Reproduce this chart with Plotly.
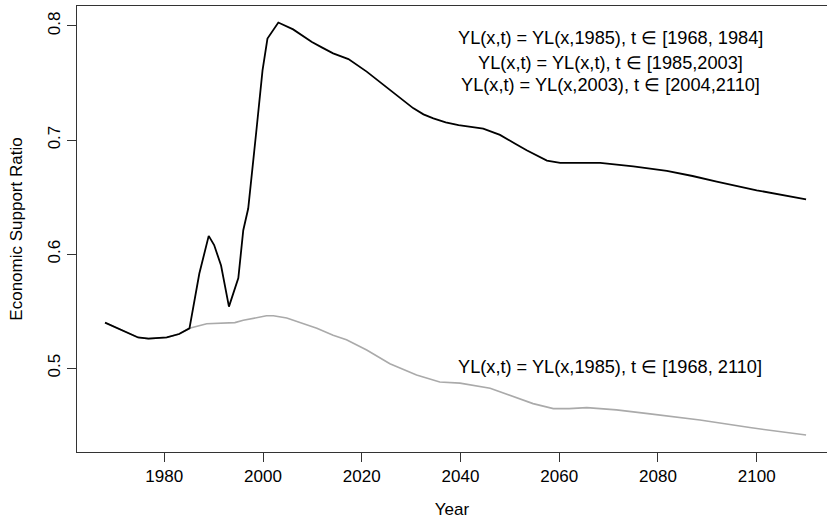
import plotly.graph_objects as go

# Black series: YL varying scenario
years_black = [1968, 1971, 1974.7, 1976.8, 1980.5, 1983, 1985.1, 1987.1, 1989.0, 1990.1, 1991.5,
               1993.1, 1995.0, 1996.0, 1997.0, 1998.6, 1999.9, 2000.9, 2003.1, 2006.1, 2009.9,
               2012, 2014.2, 2017.3, 2021.0, 2025.7, 2030.4, 2032.5, 2034.5, 2037, 2039.6, 2044.6,
               2048.0, 2051, 2053.4, 2057.5, 2060.2, 2064, 2068.3, 2075, 2081.8, 2087, 2091.9,
               2100, 2110]
esr_black = [0.540, 0.534, 0.527, 0.526, 0.527, 0.530, 0.535, 0.583, 0.616, 0.608, 0.590,
             0.554, 0.579, 0.621, 0.640, 0.706, 0.761, 0.789, 0.803, 0.797, 0.786,
             0.781, 0.776, 0.771, 0.760, 0.744, 0.728, 0.7225, 0.719, 0.7155, 0.713, 0.710,
             0.7045, 0.697, 0.691, 0.682, 0.680, 0.680, 0.680, 0.677, 0.673, 0.6685, 0.6635,
             0.656, 0.648]

# Grey series: YL fixed at 1985
years_grey = [1968, 1971, 1974.7, 1976.8, 1980.5, 1983, 1985.1, 1988.6, 1994.3, 1996.0, 2000.7,
              2002.1, 2004.8, 2010.9, 2014.2, 2016.9, 2021.0, 2025.7, 2031.1, 2035.8, 2039.9,
              2046.0, 2050.0, 2054.7, 2058.8, 2062, 2065.6, 2071.6, 2078.4, 2088.5, 2098.6, 2110]
esr_grey = [0.540, 0.534, 0.527, 0.526, 0.527, 0.530, 0.535, 0.539, 0.540, 0.542, 0.546,
            0.546, 0.544, 0.535, 0.529, 0.525, 0.516, 0.504, 0.494, 0.488, 0.487,
            0.4825, 0.4766, 0.469, 0.4646, 0.4646, 0.4655, 0.4635, 0.460, 0.4547, 0.448, 0.4415]

x_ticks = [1980, 2000, 2020, 2040, 2060, 2080, 2100]
y_ticks = [0.5, 0.6, 0.7, 0.8]

top_labels = ["YL(x,t) = YL(x,1985), t \u2208 [1968, 1984]",
              "YL(x,t) = YL(x,t), t \u2208 [1985,2003]",
              "YL(x,t) = YL(x,2003), t \u2208 [2004,2110]"]
top_label_y = [0.7895, 0.7676, 0.7486]
bottom_label = "YL(x,t) = YL(x,1985), t \u2208 [1968, 2110]"
bottom_label_y = 0.5013
label_x = 2070.3

FONT = "Liberation Sans, Arial, Helvetica, sans-serif"

fig = go.Figure()
fig.add_trace(go.Scatter(x=years_grey, y=esr_grey, mode="lines",
                         line=dict(color="#aaaaaa", width=1.6), showlegend=False))
fig.add_trace(go.Scatter(x=years_black, y=esr_black, mode="lines",
                         line=dict(color="#000000", width=1.8), showlegend=False))

for txt, yy in zip(top_labels, top_label_y):
    fig.add_annotation(x=label_x, y=yy, text=txt, showarrow=False,
                       font=dict(family=FONT, size=18.2, color="#000"))
fig.add_annotation(x=label_x, y=bottom_label_y, text=bottom_label, showarrow=False,
                   font=dict(family=FONT, size=18.2, color="#000"))

fig.update_layout(
    width=827, height=521,
    margin=dict(l=77, r=0, t=6, b=69),
    plot_bgcolor="white", paper_bgcolor="white",
    font=dict(family=FONT, size=17, color="#000"),
    xaxis=dict(range=[1962.32, 2114.24], tickvals=x_ticks, ticks="outside", ticklen=9,
               tickcolor="#333", showline=True, mirror=True, linecolor="#333", linewidth=1,
               showgrid=False, zeroline=False,
               title=dict(text="Year", standoff=17, font=dict(size=17))),
    yaxis=dict(range=[0.4266, 0.8175], tickvals=y_ticks, ticktext=["0.5", "0.6", "0.7", "0.8"],
               ticks="outside", ticklen=9, tickcolor="#333", tickangle=-90,
               showline=True, mirror=False, linecolor="#333", linewidth=1,
               showgrid=False, zeroline=False,
               title=dict(text="Economic Support Ratio", standoff=18, font=dict(size=17))),
)

fig.write_html("out.html", config={"displayModeBar": False},
               post_script="document.body.style.margin='0';")
